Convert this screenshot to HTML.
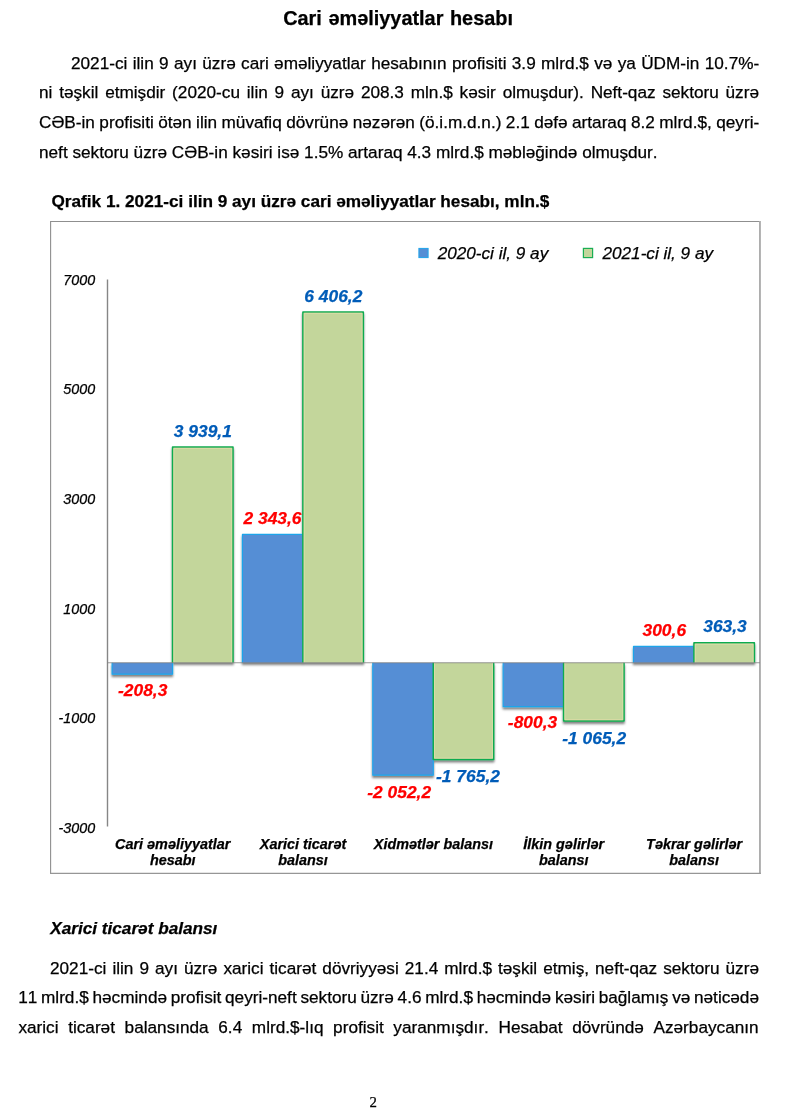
<!DOCTYPE html>
<html lang="az">
<head>
<meta charset="utf-8">
<title>Cari əməliyyatlar hesabı</title>
<style>
html,body{margin:0;padding:0;background:#fff;}
body{-webkit-text-stroke:0.25px currentColor;font-kerning:none;width:800px;height:1114px;position:relative;overflow:hidden;font-family:"Liberation Sans",sans-serif;color:#000;}
.ln{position:absolute;font-size:17.2px;line-height:20px;height:20px;white-space:nowrap;}
.h1{position:absolute;left:283.2px;white-space:nowrap;word-spacing:1px;font-weight:bold;font-size:19.9px;line-height:24px;top:6px;}
.ct{position:absolute;left:51.5px;top:191px;font-weight:bold;font-size:17.2px;line-height:20px;white-space:nowrap;}
.h2{position:absolute;left:50.2px;top:917.5px;font-weight:bold;font-style:italic;font-size:17.2px;line-height:20px;white-space:nowrap;}
.pn{position:absolute;left:369.4px;top:1092.5px;font-family:"Liberation Serif",serif;font-size:14.8px;line-height:18px;}
svg{position:absolute;left:0;top:0;}
svg text{font-family:"Liberation Sans",sans-serif;font-style:italic;stroke:#000;stroke-width:0.25px;}
svg text.r{fill:#ff0000;stroke:#ff0000;}
svg text.b{fill:#005cb8;stroke:#005cb8;}
</style>
</head>
<body>
<div class="h1">Cari əməliyyatlar hesabı</div>


<div class="ln" style="left:71.0px;top:52.86px;word-spacing:0.576px;">2021-ci ilin 9 ayı üzrə cari əməliyyatlar hesabının profisiti 3.9 mlrd.$ və ya ÜDM-in 10.7%-</div>
<div class="ln" style="left:39.0px;top:82.26px;word-spacing:2.028px;">ni təşkil etmişdir (2020-cu ilin 9 ayı üzrə 208.3 mln.$ kəsir olmuşdur). Neft-qaz sektoru üzrə</div>
<div class="ln" style="left:39.0px;top:112.06px;word-spacing:-0.342px;">CƏB-in profisiti ötən ilin müvafiq dövrünə nəzərən (ö.i.m.d.n.) 2.1 dəfə artaraq 8.2 mlrd.$, qeyri-</div>
<div class="ln" style="left:39.0px;top:142.16px;word-spacing:0.000px;">neft sektoru üzrə CƏB-in kəsiri isə 1.5% artaraq 4.3 mlrd.$ məbləğində olmuşdur.</div>
<div class="ct">Qrafik 1. 2021-ci ilin 9 ayı üzrə cari əməliyyatlar hesabı, mln.$</div>

<svg width="800" height="1114" viewBox="0 0 800 1114">
<!--CHART-->
<defs><filter id="sh" x="-10%" y="-10%" width="125%" height="125%"><feDropShadow dx="0" dy="2.2" stdDeviation="1.2" flood-color="#000" flood-opacity="0.5"/></filter></defs>
<path d="M50.6,874V221.5H760" fill="none" stroke="#8f8f8f" stroke-width="1.1"/>
<path d="M759.95,221V873.3" fill="none" stroke="#adadad" stroke-width="1.9"/>
<path d="M50,873.3H760.9" fill="none" stroke="#969696" stroke-width="1.2"/>
<g filter="url(#sh)"><path d="M112.10,662.75V674.16H172.55V662.75" fill="#558ed5" stroke="#1fa5ea" stroke-width="1.2" stroke-linejoin="round"/><path d="M172.55,662.75V447.04H233.00V662.75" fill="#c3d69b" stroke="#10ab50" stroke-width="1.5" stroke-linejoin="round"/><path d="M242.45,662.75V534.41H302.90V662.75" fill="#558ed5" stroke="#1fa5ea" stroke-width="1.2" stroke-linejoin="round"/><path d="M302.90,662.75V311.95H363.35V662.75" fill="#c3d69b" stroke="#10ab50" stroke-width="1.5" stroke-linejoin="round"/><path d="M372.80,662.75V775.13H433.25V662.75" fill="#558ed5" stroke="#1fa5ea" stroke-width="1.2" stroke-linejoin="round"/><path d="M433.25,662.75V759.41H493.70V662.75" fill="#c3d69b" stroke="#10ab50" stroke-width="1.5" stroke-linejoin="round"/><path d="M503.15,662.75V706.57H563.60V662.75" fill="#558ed5" stroke="#1fa5ea" stroke-width="1.2" stroke-linejoin="round"/><path d="M563.60,662.75V721.08H624.05V662.75" fill="#c3d69b" stroke="#10ab50" stroke-width="1.5" stroke-linejoin="round"/><path d="M633.50,662.75V646.29H693.95V662.75" fill="#558ed5" stroke="#1fa5ea" stroke-width="1.2" stroke-linejoin="round"/><path d="M693.95,662.75V642.86H754.40V662.75" fill="#c3d69b" stroke="#10ab50" stroke-width="1.5" stroke-linejoin="round"/></g>
<path d="M173.85,662.75V448.34H231.70V662.75" fill="none" stroke="#e9dfad" stroke-width="0.8" opacity="0.85"/><path d="M304.20,662.75V313.25H362.05V662.75" fill="none" stroke="#e9dfad" stroke-width="0.8" opacity="0.85"/><path d="M434.55,662.75V758.11H492.40V662.75" fill="none" stroke="#e9dfad" stroke-width="0.8" opacity="0.85"/><path d="M564.90,662.75V719.78H622.75V662.75" fill="none" stroke="#e9dfad" stroke-width="0.8" opacity="0.85"/><path d="M695.25,662.75V644.16H753.10V662.75" fill="none" stroke="#e9dfad" stroke-width="0.8" opacity="0.85"/>
<line x1="107.5" y1="279.4" x2="107.5" y2="826.6" stroke="#868686" stroke-width="1.4"/>
<line x1="107.5" y1="662.75" x2="760" y2="662.75" stroke="#808080" stroke-width="0.8"/>
<text x="95.1" y="284.5" font-size="14.3" text-anchor="end">7000</text>
<text x="95.1" y="394.2" font-size="14.3" text-anchor="end">5000</text>
<text x="95.1" y="503.9" font-size="14.3" text-anchor="end">3000</text>
<text x="95.1" y="613.5" font-size="14.3" text-anchor="end">1000</text>
<text x="95.1" y="723.0" font-size="14.3" text-anchor="end">-1000</text>
<text x="95.1" y="832.6" font-size="14.3" text-anchor="end">-3000</text>
<rect x="418.9" y="248.4" width="9.2" height="9.2" fill="#558ed5" stroke="#1fa5ea" stroke-width="1"/>
<text x="437.7" y="258.8" font-size="17.15">2020-ci il, 9 ay</text>
<rect x="583.4" y="248.4" width="9.2" height="9.2" fill="#c3d69b" stroke="#1aae54" stroke-width="1.2"/>
<text x="602.5" y="258.9" font-size="17.15">2021-ci il, 9 ay</text>
<text x="142.7" y="696" font-size="17.4" font-weight="bold" class="r" text-anchor="middle">-208,3</text>
<text x="202.8" y="436.8" font-size="17.4" font-weight="bold" class="b" text-anchor="middle">3 939,1</text>
<text x="272.5" y="524" font-size="17.4" font-weight="bold" class="r" text-anchor="middle">2 343,6</text>
<text x="333.3" y="301.6" font-size="17.4" font-weight="bold" class="b" text-anchor="middle">6 406,2</text>
<text x="399.2" y="797.6" font-size="17.4" font-weight="bold" class="r" text-anchor="middle">-2 052,2</text>
<text x="468" y="781.6" font-size="17.4" font-weight="bold" class="b" text-anchor="middle">-1 765,2</text>
<text x="532.5" y="727.5" font-size="17.4" font-weight="bold" class="r" text-anchor="middle">-800,3</text>
<text x="594.2" y="744" font-size="17.4" font-weight="bold" class="b" text-anchor="middle">-1 065,2</text>
<text x="664.3" y="636" font-size="17.4" font-weight="bold" class="r" text-anchor="middle">300,6</text>
<text x="725" y="632.4" font-size="17.4" font-weight="bold" class="b" text-anchor="middle">363,3</text>
<text x="172.7" y="849" font-size="14.4" font-weight="bold" text-anchor="middle">Cari əməliyyatlar</text>
<text x="172.7" y="865" font-size="14.4" font-weight="bold" text-anchor="middle">hesabı</text>
<text x="303.0" y="849" font-size="14.4" font-weight="bold" text-anchor="middle">Xarici ticarət</text>
<text x="303.0" y="865" font-size="14.4" font-weight="bold" text-anchor="middle">balansı</text>
<text x="433.4" y="849" font-size="14.4" font-weight="bold" text-anchor="middle">Xidmətlər balansı</text>
<text x="563.7" y="849" font-size="14.4" font-weight="bold" text-anchor="middle">İlkin gəlirlər</text>
<text x="563.7" y="865" font-size="14.4" font-weight="bold" text-anchor="middle">balansı</text>
<text x="694.1" y="849" font-size="14.4" font-weight="bold" text-anchor="middle">Təkrar gəlirlər</text>
<text x="694.1" y="865" font-size="14.4" font-weight="bold" text-anchor="middle">balansı</text>
<!--/CHART-->
</svg>

<div class="h2">Xarici ticarət balansı</div>

<div class="ln" style="left:50.0px;top:957.56px;word-spacing:1.243px;">2021-ci ilin 9 ayı üzrə xarici ticarət dövriyyəsi 21.4 mlrd.$ təşkil etmiş, neft-qaz sektoru üzrə</div>
<div class="ln" style="left:18.2px;top:986.96px;word-spacing:-1.069px;">11 mlrd.$ həcmində profisit qeyri-neft sektoru üzrə 4.6 mlrd.$ həcmində kəsiri bağlamış və nəticədə</div>
<div class="ln" style="left:18.4px;top:1016.66px;word-spacing:4.863px;">xarici ticarət balansında 6.4 mlrd.$-lıq profisit yaranmışdır. Hesabat dövründə Azərbaycanın</div>
<div class="pn">2</div>
</body>
</html>
